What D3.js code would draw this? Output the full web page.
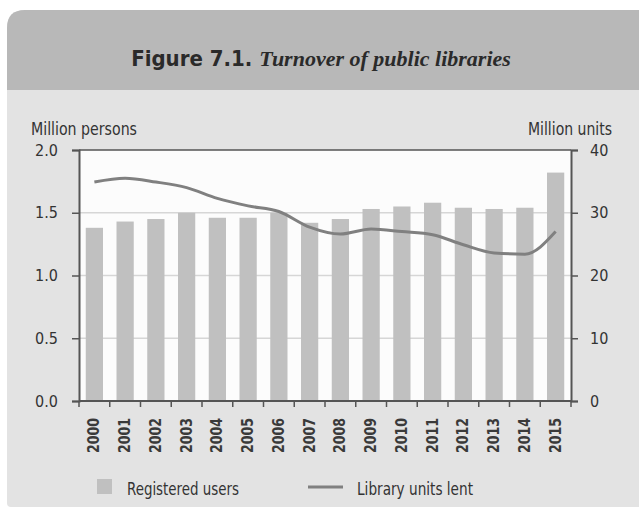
<!DOCTYPE html>
<html><head><meta charset="utf-8">
<script src="https://cdn.jsdelivr.net/npm/d3@7"></script>
<style>
html,body{margin:0;padding:0;background:#fff;}
svg{display:block;}
text{font-family:"Liberation Sans Narrow","DejaVu Sans Condensed",sans-serif;font-stretch:condensed;fill:#333;}
</style></head><body>
<svg id="c" width="639" height="509"></svg>
<script>
const years = ["2000","2001","2002","2003","2004","2005","2006","2007","2008","2009","2010","2011","2012","2013","2014","2015"];
const registeredUsers = [1.38,1.43,1.45,1.50,1.46,1.46,1.50,1.42,1.45,1.53,1.55,1.58,1.54,1.53,1.54,1.82];
const unitsLent = [34.9,35.5,34.9,34.0,32.3,31.1,30.2,27.7,26.6,27.4,27.0,26.5,24.9,23.6,23.4,27.0];
const leftTicks = [0,0.5,1.0,1.5,2.0];
const rightTicks = [0,10,20,30,40];

const svg = d3.select("#c");
// panel
const px=7, py=10, pr=639, pb=507, hb=90, rad=18;
svg.append("path")
  .attr("d",`M${px},${pb-4} L${px},${py+rad} Q${px},${py} ${px+rad},${py} L${pr},${py} L${pr},${pb} L${px+4},${pb} Q${px},${pb} ${px},${pb-4} Z`)
  .attr("fill","#e3e3e3");
svg.append("path")
  .attr("d",`M${px},${hb} L${px},${py+rad} Q${px},${py} ${px+rad},${py} L${pr},${py} L${pr},${hb} Z`)
  .attr("fill","#b8b8b8");

const title = svg.append("text").attr("x",321).attr("y",66).attr("text-anchor","middle").style("font-size","22px").style("fill","#2a2a2a");
title.append("tspan").style("font-weight","bold").text("Figure 7.1. ");
title.append("tspan").style("font-family","'Liberation Serif',serif")
  .style("font-style","italic").style("font-weight","bold").text("Turnover of public libraries");

const L=79, R=571, T=150, B=401;
const x = d3.scaleBand().domain(years).range([L,R]).paddingInner(0.44).paddingOuter(0.22);
const yL = d3.scaleLinear().domain([0,2]).range([B,T]);
const yR = d3.scaleLinear().domain([0,40]).range([B,T]);

svg.append("rect").attr("x",L).attr("y",T).attr("width",R-L).attr("height",B-T).attr("fill","#fcfcfc");
// gridlines
svg.append("g").selectAll("line").data(leftTicks.filter(d=>d>0&&d<2)).join("line")
  .attr("x1",L).attr("x2",R).attr("y1",d=>yL(d)).attr("y2",d=>yL(d))
  .attr("stroke","#d6d6d6").attr("stroke-width",1.5);

// bars
svg.append("g").selectAll("rect").data(registeredUsers).join("rect")
  .attr("x",(d,i)=>x(years[i])).attr("width",x.bandwidth())
  .attr("y",d=>yL(d)).attr("height",d=>B-yL(d)).attr("fill","#c0c0c0");

// line
const line = d3.line().x((d,i)=>x(years[i])+x.bandwidth()/2).y(d=>yR(d)).curve(d3.curveMonotoneX);
svg.append("path").datum(unitsLent).attr("d",line).attr("fill","none").attr("stroke","#808080").attr("stroke-width",3);

// top frame
svg.append("line").attr("x1",L).attr("x2",R).attr("y1",T).attr("y2",T).attr("stroke","#555").attr("stroke-width",1.5);

const axStyle = g=>{
  g.select(".domain").attr("stroke","#555").attr("stroke-width",2);
  g.selectAll(".tick line").attr("stroke","#555").attr("stroke-width",1.5);
  g.selectAll(".tick text").style("font-size","16px").attr("fill","#333").style("font-family","'Liberation Sans Narrow','DejaVu Sans Condensed',sans-serif");
};
svg.append("g").attr("transform",`translate(${L},0)`)
  .call(d3.axisLeft(yL).tickValues(leftTicks).tickFormat(d3.format(".1f")).tickSize(7).tickSizeOuter(7).tickPadding(14))
  .call(axStyle);
svg.append("g").attr("transform",`translate(${R},0)`)
  .call(d3.axisRight(yR).tickValues(rightTicks).tickSize(7).tickSizeOuter(7).tickPadding(12))
  .call(axStyle);

// bottom axis with ticks between bars
const bx = svg.append("g").attr("transform",`translate(0,${B})`);
bx.append("line").attr("x1",L).attr("x2",R).attr("stroke","#555").attr("stroke-width",2);
const step = x.step();
const boundaries = d3.range(years.length+1).map(i=> i===0?L:(i===years.length?R:x(years[i])-step*x.paddingInner()/2));
bx.selectAll("line.t").data(boundaries).join("line").attr("class","t")
  .attr("x1",d=>d).attr("x2",d=>d).attr("y1",0).attr("y2",6).attr("stroke","#555").attr("stroke-width",1.5);
bx.selectAll("text").data(years).join("text")
  .attr("transform",d=>`translate(${x(d)+x.bandwidth()/2+5},${17}) rotate(-90)`)
  .attr("text-anchor","end").style("font-size","15px").style("font-weight","bold").style("fill","#3a3a3a")
  .attr("textLength",35).attr("lengthAdjust","spacingAndGlyphs").text(d=>d);

// axis titles
svg.append("text").attr("x",31).attr("y",135).style("font-size","17px")
  .attr("textLength",106).attr("lengthAdjust","spacingAndGlyphs").text("Million persons");
svg.append("text").attr("x",528).attr("y",135).style("font-size","17px")
  .attr("textLength",84).attr("lengthAdjust","spacingAndGlyphs").text("Million units");

// legend
svg.append("rect").attr("x",97).attr("y",479).attr("width",15).attr("height",15).attr("fill","#c0c0c0");
svg.append("text").attr("x",127).attr("y",495).style("font-size","17px")
  .attr("textLength",112).attr("lengthAdjust","spacingAndGlyphs").text("Registered users");
svg.append("line").attr("x1",308).attr("x2",343).attr("y1",487).attr("y2",487).attr("stroke","#808080").attr("stroke-width",3);
svg.append("text").attr("x",357).attr("y",495).style("font-size","17px")
  .attr("textLength",116).attr("lengthAdjust","spacingAndGlyphs").text("Library units lent");
</script></body></html>
